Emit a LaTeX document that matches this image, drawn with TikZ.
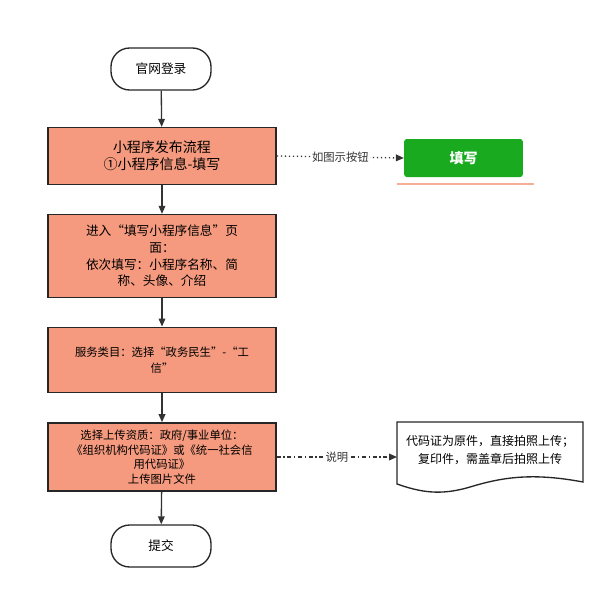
\documentclass[tikz,border=0pt]{standalone}
\usepackage{fontspec}
\setmainfont{Noto Sans CJK SC}
\usetikzlibrary{arrows.meta}
\definecolor{sal}{HTML}{F59A7E}
\definecolor{grn}{HTML}{1AAA1F}
\begin{document}
\begin{tikzpicture}[x=0.75pt,y=-0.75pt,
  term/.style={draw=black!85,line width=1pt,rounded corners=14pt,minimum width=75pt,minimum height=31.5pt,fill=white,font=\fontsize{9.5}{12}\selectfont},
  proc/.style={draw=black!85,line width=1.2pt,fill=sal,minimum width=171pt,align=center,font=\fontsize{9.5}{12.5}\selectfont},
  arr/.style={-{Triangle[length=6pt,width=5pt]},line width=1pt,black!80},
  lab/.style={fill=white,font=\fontsize{8.5}{10}\selectfont,text=black!80,inner sep=1pt}]
\useasboundingbox (0,0) rectangle (615,600);
\node[term] (a) at (161,69) {官网登录};
\node[proc,minimum height=42.5pt,font=\fontsize{10.5}{13}\selectfont] (b) at (162,156) {小程序发布流程\\①小程序信息-填写};
\node[proc,minimum height=62pt] (c) at (162,256) {进入“填写小程序信息”页\\面：\\依次填写：小程序名称、简\\称、头像、介绍};
\node[proc,minimum height=49pt,font=\fontsize{8.5}{12}\selectfont] (d) at (162,360) {服务类目：选择“政务民生”-“工\\信”};
\node[proc,minimum height=51pt,font=\fontsize{8.5}{11}\selectfont] (e) at (162,457) {选择上传资质：政府/事业单位：\\《组织机构代码证》或《统一社会信\\用代码证》\\上传图片文件};
\node[term] (f) at (161,546) {提交};
\node[fill=grn,rounded corners=2pt,minimum width=89pt,minimum height=28.5pt,text=white,font=\bfseries\fontsize{10.5}{12}\selectfont] (g) at (463.5,158) {填写};
\draw[sal!80,line width=0.8pt] (397,184) -- (534,184);
\draw[black!85,line width=1pt] (397,422) -- (583,422) -- (583,482) .. controls (530,472) and (500,478) .. (470,487) .. controls (440,496) and (420,492) .. (397,484) -- cycle;
\node[align=center,font=\fontsize{9}{13}\selectfont] (h) at (490,450) {代码证为原件，直接拍照上传；\\复印件，需盖章后拍照上传};
\coordinate (hl) at (397,457);
\draw[arr] (a) -- (b);
\draw[arr] (b) -- (c);
\draw[arr] (c) -- (d);
\draw[arr] (d) -- (e);
\draw[arr] (e) -- (f);
\draw[arr,dotted] (b.east) -- node[lab]{如图示按钮} (g.west);
\draw[arr,dash dot] (e.east) -- node[lab]{说明} (hl);
\end{tikzpicture}
\end{document}
